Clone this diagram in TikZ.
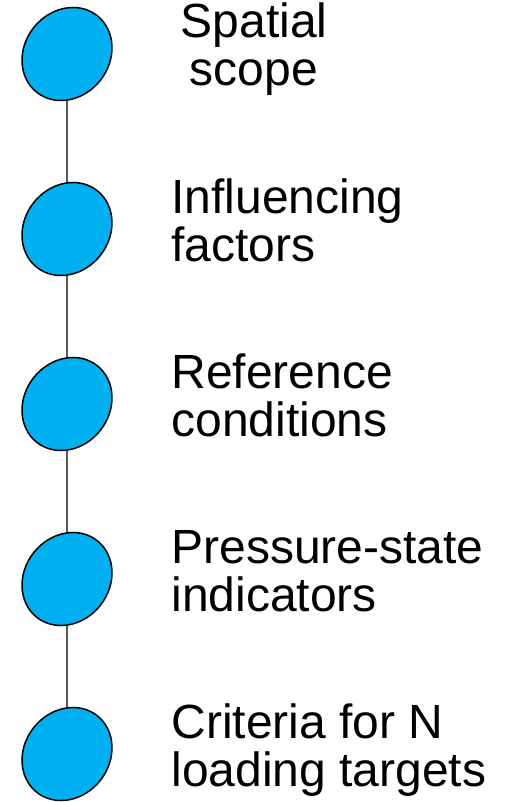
\documentclass[tikz,border=0pt]{standalone}
\usepackage{fontspec}
\setmainfont{Liberation Sans}
\usetikzlibrary{shapes.geometric}
\definecolor{stageblue}{RGB}{0,176,240}

\begin{document}
\begin{tikzpicture}[x=.5pt,y=.5pt,
  stage/.style={ellipse,draw=black,line width=.75pt,fill=stageblue,
    inner sep=0pt,minimum width=48.8pt,minimum height=42.5pt,rotate=52},
  link/.style={draw=black,line width=.65pt},
  label/.style={font=\fontsize{24}{24}\selectfont,inner sep=0pt,align=left}]

\useasboundingbox (0,0) rectangle (512,-802);

% Stages down the timeline.
\foreach \n/\y in {1/54,2/229,3/404,4/579,5/754}
  \node[stage] (s\n) at (67,-\y) {};
\foreach \a/\b in {1/2,2/3,3/4,4/5}
  \draw[link] (s\a) -- (s\b);

% Labels, placed by the baseline of their last line.
\node[label,align=center,anchor=base] (t1) at (254,-86) {Spatial\\scope};
\node[label,anchor=base west] (t2) at (171,-261) {Influencing\\factors};
\node[label,anchor=base west] (t3) at (171,-436) {Reference\\conditions};
\node[label,anchor=base west] (t4) at (171,-611) {Pressure-state\\indicators};
\node[label,anchor=base west] (t5) at (171,-786) {Criteria for N\\loading targets};
\end{tikzpicture}
\end{document}
